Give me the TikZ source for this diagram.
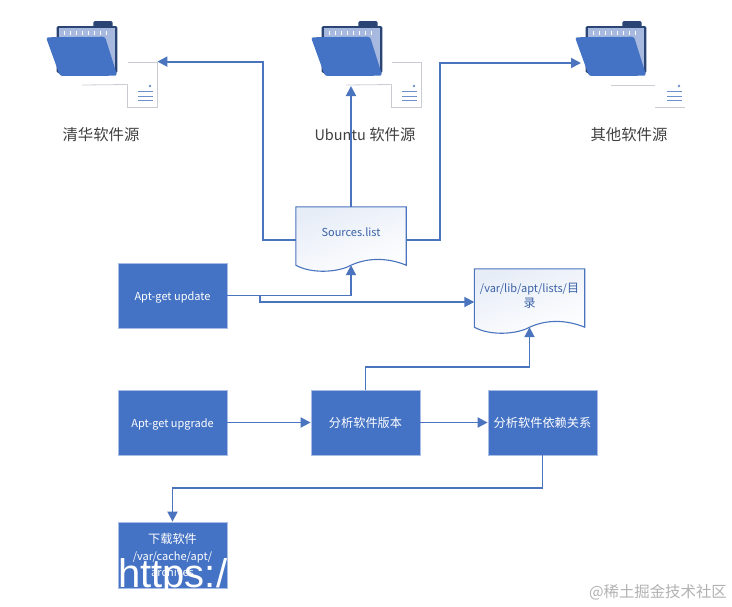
\documentclass[tikz,border=0pt]{standalone}
\usepackage{fontspec}
\setmainfont{Noto Sans CJK SC}
\newfontfamily\urlfont{Liberation Sans}
\usepackage[]{tikz}
\usetikzlibrary{arrows.meta}
\usetikzlibrary{calc}
\definecolor{boxblue}{HTML}{4472C4}
\definecolor{edgeblue}{HTML}{A9BDE6}
\definecolor{linkblue}{HTML}{4A74BE}
\definecolor{folderdark}{HTML}{2A4474}
\definecolor{folderpale}{HTML}{A8B9E0}
\definecolor{pagegrey}{HTML}{C9CDD3}
\newcommand{\ltn}[1]{{\fontsize{11}{16.5}\selectfont #1}}
\tikzset{
    stepbox/.style={draw=edgeblue,line width=0.8pt,fill=boxblue,text=white,minimum width=109pt,minimum height=65pt,inner sep=0pt,align=center,font=\fontsize{12.2}{16.5}\selectfont},
    oneline/.style={text height=10pt,text depth=0pt},
    docbox/.style={minimum width=110pt,minimum height=58pt,inner sep=0pt,align=center,text=boxblue!85!black,font=\fontsize{12}{15}\selectfont},
    docline/.style={draw=linkblue,line width=1.1pt,shading=axis,top color=boxblue!13,bottom color=white,shading angle=20},
    link/.style={draw=linkblue,line width=1.9pt,-{Triangle[length=10pt,width=10pt]}},
    pagebox/.style={draw=pagegrey,line width=0.8pt,minimum width=30pt,minimum height=45pt,inner sep=0pt},
    srclabel/.style={text=black!75,font=\fontsize{15.4}{17}\selectfont},
    folder/.pic={
        \fill[folderdark,rounded corners=1.5pt] (47.3,0) rectangle (66.7,8);
        \fill[folderdark,rounded corners=1.5pt] (10.7,5) rectangle (71.3,52);
        \fill[folderpale] (12.7,7) rectangle (69.3,50);
        \foreach \tick in {18,24,...,60}
            \draw[white,line width=0.7pt] (\tick,10) -- (\tick,14);
        \fill[boxblue,rounded corners=2.5pt] (0,16.3) -- (59,15.7) -- (71.3,54.7) -- (14,55) -- cycle;
    },
    pagemark/.pic={
        \fill[linkblue!80] (0,0) circle (1.3pt);
        \foreach \row in {5,10,14}
            \draw[linkblue!80,line width=0.7pt] (-12,\row) -- (3,\row);
    }
}
\newcommand{\wavedoc}[1]{
    \path[docline] (#1.north west) -- (#1.north east) -- (#1.south east)
        .. controls ($(#1.south east)+(-12,-5)$) and ($(#1.south)+(22,-10)$) .. (#1.south)
        .. controls ($(#1.south)+(-12,7)$) and ($(#1.south west)+(16,9)$) .. (#1.south west) -- cycle;
}
\begin{document}
\begin{tikzpicture}[x=1pt,y=-1pt]
    \useasboundingbox[fill=white] (0,0) rectangle (732,606);
    % 文件夹图标
    \foreach \fx in {46,311,575}
        \pic at (\fx,21) {folder};
    \foreach \fx/\name in {142/pageA,406/pageB}
        \node[pagebox] (\name) at (\fx,84.5) {};
    \foreach \fx in {150,414,679}
        \pic at (\fx,86) {pagemark};
    % 图标下方的细线
    \fill[white] (126,60) rectangle (128,84);
    \fill[white] (390,60) rectangle (392,84);
    \draw[pagegrey,line width=0.8pt] (82,85) -- (pageA.west);
    \draw[pagegrey,line width=0.8pt] (346,85) -- (pageB.west);
    \draw[pagegrey,line width=0.8pt] (611,85) -- (655,85);
    \draw[pagegrey,line width=0.8pt] (655,107) -- (685,107);
    % 软件源名称
    \node[srclabel] (labelA) at (101,135) {清华软件源};
    \node[srclabel] (labelB) at (365,135) {{\fontsize{14.5}{17}\selectfont Ubuntu} 软件源};
    \node[srclabel] (labelC) at (629,135) {其他软件源};
    % 方框
    \node[stepbox,oneline] (update) at (172.5,295.5) {\ltn{Apt-get update}};
    \node[stepbox,oneline] (upgrade) at (172.5,422.5) {\ltn{Apt-get upgrade}};
    \node[stepbox,oneline] (version) at (365.5,422.5) {分析软件版本};
    \node[stepbox,oneline] (depend) at (542.5,422.5) {分析软件依赖关系};
    \node[stepbox,minimum height=66pt] (download) at (172.5,555) {下载软件\\\ltn{/var/cache/apt/}\\\ltn{archives}};
    % 文档
    \node[docbox] (sources) at (351,236) {};
    \wavedoc{sources}
    \node[docbox] (sourcestext) at (351,232.5) {\ltn{Sources.list}};
    \node[docbox] (lists) at (529.5,298) {};
    \wavedoc{lists}
    \node[docbox,minimum height=40pt] (liststext) at (529.5,295.5) {\ltn{/var/lib/apt/lists/}目\\录};
    % 连线
    \coordinate (inB) at (351,86);
    \coordinate (inC) at (581,63);
    \coordinate (fork) at (260,296);
    \draw[link] ([yshift=-4pt]sources.west) -- ++(-33,0) |- (pageA.north east);
    \draw[link] (sources.north) -- (inB);
    \draw[link] ([yshift=-4pt]sources.east) -- ++(34,0) |- (inC);
    \draw[link] (update.east) -| (sources.south);
    \draw[link] (fork) |- ([yshift=-4pt]lists.west);
    \draw[link] (upgrade.east) -- (version.west);
    \draw[link] (version.east) -- (depend.west);
    \draw[link] (version.north) -- ++(0,-23) -| (lists.south);
    \draw[link] (depend.south) -- ++(0,33) -| (download.north);
    % 水印
    \begin{scope}
        \clip (download.north west) rectangle (download.south east);
        \node[anchor=base west,inner sep=0pt,text=white,font=\urlfont\fontsize{40}{40}\selectfont] (urltext) at (118,587) {https:/};
    \end{scope}
    \node[anchor=base east,inner sep=0pt,text=black!30,font=\fontsize{15.4}{16}\selectfont] (mark) at (727,597) {@稀土掘金技术社区};
\end{tikzpicture}
\end{document}
